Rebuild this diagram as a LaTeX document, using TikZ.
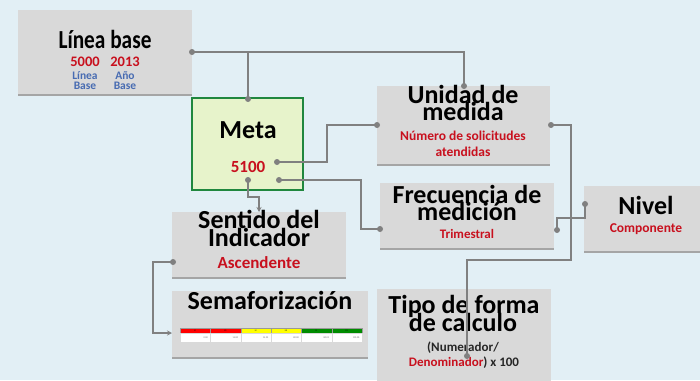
\documentclass[tikz,border=0pt]{standalone}
\usepackage{fontspec}
\setmainfont{Carlito}
\usetikzlibrary{shadows,arrows.meta}
\definecolor{bg}{RGB}{226,239,245}
\definecolor{boxg}{RGB}{217,217,217}
\definecolor{shad}{RGB}{165,165,165}
\definecolor{metaf}{RGB}{231,243,203}
\definecolor{metab}{RGB}{32,135,62}
\definecolor{redt}{RGB}{200,16,30}
\definecolor{bluet}{RGB}{72,108,178}
\definecolor{lin}{RGB}{128,128,128}
\definecolor{semr}{RGB}{255,0,0}
\definecolor{semy}{RGB}{255,255,0}
\definecolor{semg}{RGB}{0,140,0}
\begin{document}
\begin{tikzpicture}[x=1pt,y=-1pt,
  box/.style={fill=boxg, draw=none, anchor=north west, inner sep=0, outer sep=0,
    drop shadow={shadow xshift=0pt, shadow yshift=-2pt, fill=shad, opacity=1}},
  ttl/.style={font=\fontsize{26}{26}\selectfont\bfseries, anchor=base, inner sep=0, text=black},
  sub/.style={font=\fontsize{13}{13}\selectfont\bfseries, anchor=base, inner sep=0, text=redt},
  bsub/.style={font=\fontsize{11.5}{11.5}\selectfont\bfseries, anchor=base, inner sep=0, text=bluet},
  conn/.style={draw=lin, line width=1.5pt},
  arr/.style={conn, -{Stealth[length=5pt,width=5pt]}},
  tiny/.style={font=\fontsize{2.4}{2.4}\selectfont, inner sep=0}
]
\useasboundingbox (0,0) rectangle (700,380);
\fill[bg] (0,0) rectangle (700,380);

% boxes
\node[box, minimum width=174, minimum height=84] (lb) at (18,10) {};
\node[box, minimum width=173, minimum height=78] (um) at (377,86) {};
\node[box, minimum width=174, minimum height=65] (fm) at (380,183) {};
\node[box, minimum width=120, minimum height=65] (niv) at (584,186) {};
\node[box, minimum width=174, minimum height=65] (sen) at (172,212) {};
\node[box, minimum width=196, minimum height=66] (sem) at (172,291) {};
\node[box, minimum width=174, minimum height=100] (tip) at (377,289) {};
\node[anchor=north west, inner sep=0, outer sep=0, fill=metaf, draw=metab, line width=2.5pt,
      minimum width=111, minimum height=92] (meta) at (192,98) {};

% texts
\node[ttl, xscale=0.82] (tlb) at (105,48) {Línea base};
\node[sub, font=\fontsize{14.5}{14.5}\selectfont\bfseries] (v1) at (85,66) {5000};
\node[sub, font=\fontsize{14.5}{14.5}\selectfont\bfseries] (v2) at (125,66) {2013};
\node[bsub] (b1) at (85,79) {Línea};
\node[bsub] (b2) at (85,89) {Base};
\node[bsub] (b3) at (125,79) {Año};
\node[bsub] (b4) at (125,89) {Base};

\node[ttl] (tmeta) at (248,138) {Meta};
\node[sub, font=\fontsize{17}{17}\selectfont\bfseries] (vmeta) at (248,172) {5100};

\node[ttl] (tum1) at (463,103) {Unidad de};
\node[ttl] (tum2) at (463,120) {medida};
\node[sub, font=\fontsize{13.5}{13.5}\selectfont\bfseries] (sum1) at (463,140) {Número de solicitudes};
\node[sub, font=\fontsize{13.5}{13.5}\selectfont\bfseries] (sum2) at (463,156) {atendidas};

\node[ttl] (tfm1) at (467,203) {Frecuencia de};
\node[ttl] (tfm2) at (467,220) {medición};
\node[sub] (sfm) at (467,238) {Trimestral};

\node[ttl] (tniv) at (646,214) {Nivel};
\node[sub, font=\fontsize{13.5}{13.5}\selectfont\bfseries] (sniv) at (646,232) {Componente};

\node[ttl] (tsen1) at (259,228) {Sentido del};
\node[ttl] (tsen2) at (259,246) {Indicador};
\node[sub, font=\fontsize{17}{17}\selectfont\bfseries] (ssen) at (259,268) {Ascendente};

\node[ttl] (tsem) at (270,309) {Semaforización};

\node[ttl] (ttip1) at (464,313) {Tipo de forma};
\node[ttl] (ttip2) at (463,331) {de calculo};
\node[sub, text=black!85] (stip1) at (463,351) {(Numerador/};
\node[sub, text=black!85] (stip2) at (464,366) {\textcolor{redt}{Denominador}) x 100};

% semaforo table
\foreach \i/\c/\t/\v in {0/semr/LI/0.00,1/semr/LS/15.00,2/semy/LI/15.01,3/semy/LS/80.00,4/semg/LI/80.01,5/semg/LS/110.00}{
  \fill[\c] (180+\i*30.33,328) rectangle (180+\i*30.33+30.33,333.5);
  \draw[black!40, line width=0.3pt] (180+\i*30.33,328) rectangle (180+\i*30.33+30.33,333.5);
  \fill[white] (180+\i*30.33,333.5) rectangle (180+\i*30.33+30.33,342);
  \draw[black!15, line width=0.3pt] (180+\i*30.33,333.5) rectangle (180+\i*30.33+30.33,342);
  \node[tiny] at (180+\i*30.33+15,330.8) {\t};
  \node[tiny, text=black!60, anchor=east] at (180+\i*30.33+28,337.8) {\v};
}

% connector points
\coordinate (pLB) at (192,52);
\coordinate (pUMt) at (464,86);
\coordinate (pMt) at (248,99);
\coordinate (pM1) at (277,162);
\coordinate (pM2) at (279,180);
\coordinate (pMb) at (248,180);
\coordinate (pUMl) at (377,125);
\coordinate (pFMl) at (380,229);
\coordinate (pSt) at (259,212);
\coordinate (pSl) at (173,262);
\coordinate (pSem) at (172,333);
\coordinate (pUMr) at (551,125);
\coordinate (pTip) at (467,356);
\coordinate (pFMr) at (557,230);
\coordinate (pNl) at (585,204);

% connectors
\draw[conn] (pLB) -| (pUMt);
\draw[conn] (pLB -| pMt) -- (pMt);
\draw[conn] (pM1) -- (327,162) |- (pUMl);
\draw[conn] (pM2) -- (361,180) |- (pFMl);
\draw[arr] (pMb) -- (248,197) -| (pSt);
\draw[arr] (pSl) -- (153,262) |- (pSem);
\draw[conn] (pUMr) -- (571,125) -- (571,260) -- (467,260) -- (pTip);
\draw[conn] (pFMr) -- (557,218) -| (pNl);

\foreach \p in {pLB,pUMt,pMt,pM1,pM2,pMb,pUMl,pFMl,pSl,pUMr,pTip,pFMr,pNl}
  \fill[lin] (\p) circle (3pt);
\end{tikzpicture}
\end{document}
